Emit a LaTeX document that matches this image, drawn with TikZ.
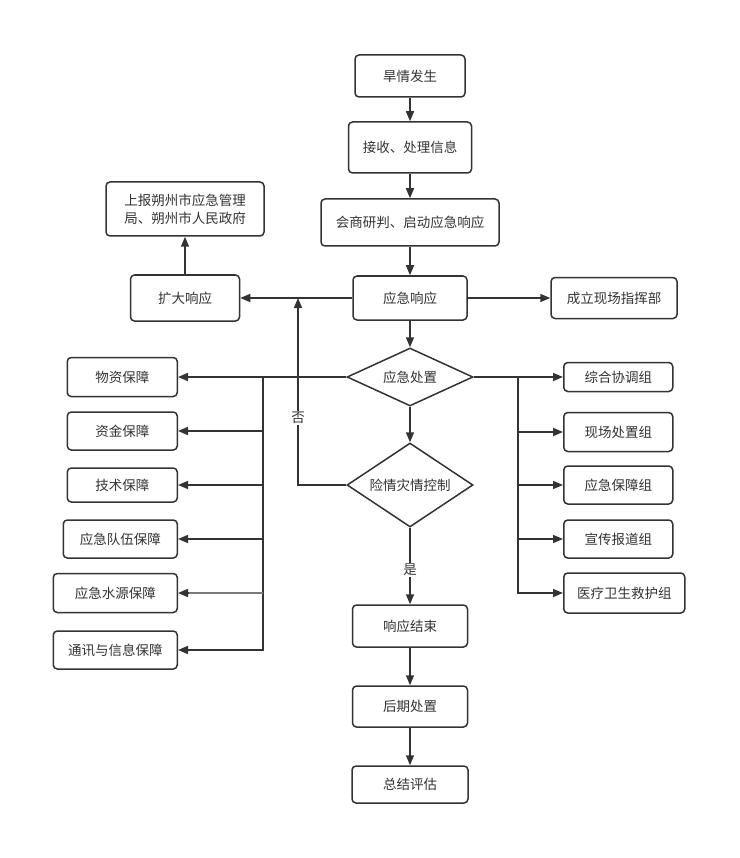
\documentclass[tikz,border=0pt]{standalone}
\usepackage{fontspec}
\setmainfont{Noto Sans CJK SC}
\usetikzlibrary{shapes.geometric,arrows.meta}
\definecolor{ink}{HTML}{333333}

\begin{document}
\begin{tikzpicture}[x=1pt,y=-1pt,
    box/.style={draw=ink,line width=1.5pt,rounded corners=4pt,fill=white,text=ink,
      inner sep=2pt,align=center,font=\fontsize{13.5}{18}\selectfont},
    dia/.style={draw=ink,line width=1.5pt,diamond,aspect=1.5,inner sep=0pt,fill=white,
      text=ink,font=\fontsize{13.5}{18}\selectfont},
    line/.style={draw=ink,line width=1.5pt},
    tag/.style={fill=white,inner sep=1pt,text=ink,font=\fontsize{13.5}{18}\selectfont},
    >={Triangle[length=10pt,width=8pt]}]
    \useasboundingbox (0,0) rectangle (739,858);
    % main column
    \node[box,minimum width=110,minimum height=42] (hq) at (410,76) {旱情发生};
    \node[box,minimum width=123,minimum height=51] (js) at (410,147.5) {接收、处理信息};
    \node[box,minimum width=178,minimum height=47] (hs) at (410,222.5) {会商研判、启动应急响应};
    \node[box,minimum width=114,minimum height=44] (xy) at (410,298) {应急响应};
    \node[box,minimum width=126,minimum height=41] (zh) at (614,298) {成立现场指挥部};
    \node[box,minimum width=109,minimum height=46] (kd) at (185,298) {扩大响应};
    \node[box,minimum width=158,minimum height=54] (sb) at (185,209) {上报朔州市应急管理\\局、朔州市人民政府};
    \node[dia,minimum width=126,minimum height=58] (cz) at (410,377) {应急处置};
    \node[dia,minimum width=126,minimum height=84] (kz) at (410,485) {险情灾情控制};
    \node[box,minimum width=115,minimum height=42] (js1) at (410,626) {响应结束};
    \node[box,minimum width=115,minimum height=41] (hq1) at (410,706.5) {后期处置};
    \node[box,minimum width=116,minimum height=37] (zj1) at (410,784.5) {总结评估};
    % left and right groups
    \foreach \n/\y/\w/\h/\t in {wz/377/110/39/物资保障,zj/431/110/38/资金保障,
      jsb/485/110/34/技术保障,dw/539/114/38/应急队伍保障,
      sy/593/124/39/应急水源保障,tx/650/124/38/通讯与信息保障}
    \node[box,minimum width=\w,minimum height=\h,anchor=east] (\n) at (178,\y) {\t};
    \foreach \n/\y/\w/\h/\t in {zhx/377/109/29/综合协调组,xc/432/109/39/现场处置组,
      bz/485/109/38/应急保障组,xc2/539/109/38/宣传报道组,yl/593/121/40/医疗卫生救护组}
    \node[box,minimum width=\w,minimum height=\h,anchor=west] (\n) at (563,\y) {\t};
    \coordinate (lt) at (263,377);
    \coordinate (rt) at (518,377);
    \coordinate (nb) at (298,298);
    % connectors
    \draw[line,->] (hq) -- (js);
    \draw[line,->] (js) -- (hs);
    \draw[line,->] (hs) -- (xy);
    \draw[line,->] (xy) -- (zh);
    \draw[line,->] (xy) -- (kd);
    \draw[line,->] (kd) -- (sb);
    \draw[line,->] (xy) -- (cz);
    \draw[line,->] (cz) -- (kz);
    \draw[line,->] (kz.west) -| (nb) node[pos=0.68,tag] {否};
    \draw[line,->] (kz) -- (js1) node[pos=0.55,tag] {是};
    \draw[line,->] (js1) -- (hq1);
    \draw[line,->] (hq1) -- (zj1);
    \draw[line] (cz.west) -- (lt);
    \foreach \n in {wz,zj,jsb,dw,sy,tx}
    \draw[line,->] (lt) |- (\n.east);
    \draw[line,draw=ink!65,shorten >=11pt] (lt |- sy.east) -- (sy.east);
    \draw[line] (cz.east) -- (rt);
    \foreach \n in {zhx,xc,bz,xc2,yl}
    \draw[line,->] (rt) |- (\n.west);
\end{tikzpicture}
\end{document}
